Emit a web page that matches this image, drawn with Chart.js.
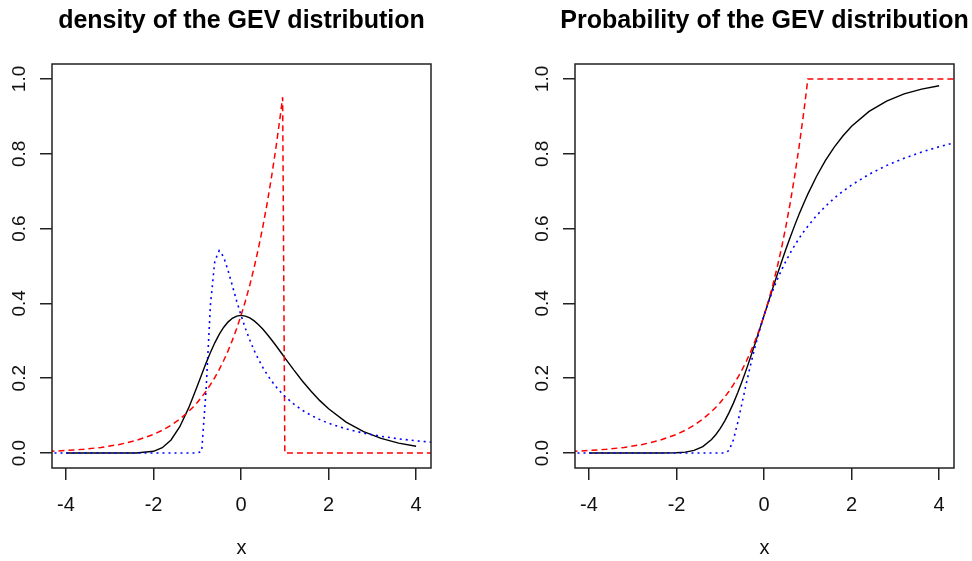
<!DOCTYPE html>
<html>
<head>
<meta charset="utf-8">
<script src="https://cdn.jsdelivr.net/npm/chart.js@4.4.0/dist/chart.umd.min.js"></script>
<style>
  html, body { margin: 0; background: #fff; }
  #wrap { position: relative; width: 972px; height: 561px; }
  canvas { position: absolute; top: 0; }
</style>
</head>
<body>
<div id="wrap">
  <canvas id="densChart" width="486" height="561" style="left:0"></canvas>
  <canvas id="probChart" width="486" height="561" style="left:486px"></canvas>
</div>
<script>
// x grid shared by every curve
const xs = [-4.4, -4, -3.6, -3.2, -2.8, -2.4, -2, -1.8, -1.6, -1.4, -1.2, -1.1, -1, -0.9, -0.8, -0.7, -0.6, -0.5, -0.4, -0.3, -0.2, -0.1,
            0, 0.1, 0.2, 0.3, 0.4, 0.5, 0.6, 0.7, 0.8, 0.9, 0.95, 1, 1.2, 1.4, 1.6, 1.8, 2, 2.4, 2.8, 3.2, 3.6, 4, 4.4];

// density panel
const densBlack = [null, 0, 0, 0, 0, 0.0002, 0.0046, 0.0143, 0.035, 0.0703, 0.12, 0.149, 0.179, 0.21, 0.2404, 0.2688, 0.2946, 0.317, 0.3356, 0.35, 0.3601, 0.366,
                   0.3679, 0.3661, 0.3611, 0.3532, 0.3429, 0.3307, 0.317, 0.3022, 0.2867, 0.2707, 0.2627, 0.2546, 0.2229, 0.1927, 0.165, 0.1401, 0.1182, 0.0828, 0.0572, 0.0391, 0.0266, 0.018, null];
const densRed = [0.0045, 0.0067, 0.0101, 0.015, 0.0224, 0.0334, 0.0498, 0.0608, 0.0743, 0.0907, 0.1108, 0.1225, 0.1353, 0.1496, 0.1653, 0.1827, 0.2019, 0.2231, 0.2466, 0.2725, 0.3012, 0.3329,
                 0.3679, 0.4066, 0.4493, 0.4966, 0.5488, 0.6065, 0.6703, 0.7408, 0.8187, 0.9048, 0.9512, 0, 0, 0, 0, 0, 0, 0, 0, 0, 0, 0, 0];
const densBlue = [0, 0, 0, 0, 0, 0, 0, 0, 0, 0, 0, 0, 0, 0.0045, 0.168, 0.396, 0.513, 0.541, 0.525, 0.489, 0.448, 0.406,
                  0.368, 0.333, 0.302, 0.274, 0.2497, 0.2282, 0.2091, 0.1921, 0.1771, 0.1637, 0.1575, 0.1516, 0.1312, 0.1144, 0.1007, 0.0893, 0.0796, 0.0645, 0.0532, 0.0447, 0.038, 0.0327, 0.0285];

// probability panel
const probBlack = [null, 0, 0, 0, 0, 0, 0.0006, 0.0024, 0.0071, 0.0173, 0.0362, 0.0496, 0.066, 0.0854, 0.108, 0.1335, 0.1617, 0.1923, 0.225, 0.2593, 0.2948, 0.3312,
                   0.3679, 0.4046, 0.441, 0.4767, 0.5116, 0.5453, 0.5776, 0.6086, 0.6381, 0.6659, 0.6793, 0.6922, 0.7399, 0.7815, 0.8172, 0.8476, 0.8734, 0.9133, 0.941, 0.96, 0.973, 0.9819, null];
const probRed = [0.0045, 0.0067, 0.0101, 0.015, 0.0224, 0.0334, 0.0498, 0.0608, 0.0743, 0.0907, 0.1108, 0.1225, 0.1353, 0.1496, 0.1653, 0.1827, 0.2019, 0.2231, 0.2466, 0.2725, 0.3012, 0.3329,
                 0.3679, 0.4066, 0.4493, 0.4966, 0.5488, 0.6065, 0.6703, 0.7408, 0.8187, 0.9048, 0.9512, 1, 1, 1, 1, 1, 1, 1, 1, 1, 1, 1, 1];
const probBlue = [0, 0, 0, 0, 0, 0, 0, 0, 0, 0, 0, 0, 0, 0, 0.0067, 0.0357, 0.0821, 0.1353, 0.1889, 0.2397, 0.2865, 0.3292,
                  0.3679, 0.4029, 0.4346, 0.4634, 0.4895, 0.5134, 0.5353, 0.5553, 0.5738, 0.5908, 0.5988, 0.6065, 0.6348, 0.6592, 0.6807, 0.6997, 0.7165, 0.7452, 0.7686, 0.7881, 0.8046, 0.8187, 0.831];

const xTicks = [-4, -2, 0, 2, 4];
const yTicks = [0, 0.2, 0.4, 0.6, 0.8, 1.0];

Chart.defaults.font.family = '"Liberation Sans", Arial, Helvetica, sans-serif';

// R style: box round the plot region and a bold title centred over it
const rBox = {
    id: 'rBox',
    afterDraw(chart, args, opts) {
        const ctx = chart.ctx;
        const a = chart.chartArea;
        ctx.save();
        ctx.strokeStyle = '#222';
        ctx.lineWidth = 1.5;
        ctx.strokeRect(a.left, a.top, a.right - a.left, a.bottom - a.top);
        ctx.fillStyle = '#000';
        ctx.font = 'bold 25px "Liberation Sans", Arial, sans-serif';
        ctx.textAlign = 'center';
        ctx.textBaseline = 'alphabetic';
        ctx.fillText(opts.title, (a.left + a.right) / 2, 28);
        ctx.restore();
    }
};

function toPoints(values) {
    return xs.map((x, i) => ({ x: x, y: values[i] }));
}

function makeChart(id, title, yWidth, padRight, black, red, blue) {
    const axisGrid = { drawOnChartArea: false, drawTicks: true, tickLength: 12, color: '#222', lineWidth: 1.5 };
    return new Chart(document.getElementById(id), {
        type: 'line',
        data: {
            datasets: [
                { data: toPoints(black), borderColor: '#000', borderWidth: 1.4, order: 3 },
                { data: toPoints(red), borderColor: '#ff0000', borderWidth: 1.5, borderDash: [6, 4], order: 2 },
                { data: toPoints(blue), borderColor: '#0000ff', borderWidth: 1.6, borderDash: [2, 4], order: 1 }
            ]
        },
        options: {
            responsive: false,
            animation: false,
            events: [],
            layout: { padding: { top: 64, right: padRight, bottom: 0, left: 0 } },
            elements: { point: { radius: 0 }, line: { tension: 0 } },
            plugins: {
                legend: { display: false },
                tooltip: { enabled: false },
                rBox: { title: title }
            },
            scales: {
                x: {
                    type: 'linear',
                    min: -4.32,
                    max: 4.34,
                    afterBuildTicks: s => { s.ticks = xTicks.map(v => ({ value: v })); },
                    afterFit: s => { s.height = 93; },
                    border: { display: false },
                    grid: axisGrid,
                    ticks: { font: { size: 20 }, color: '#111', padding: 13, maxRotation: 0, autoSkip: false, callback: v => String(v) },
                    title: { display: true, text: 'x', font: { size: 20 }, color: '#111', padding: { top: 0, bottom: 1 } }
                },
                y: {
                    type: 'linear',
                    min: -0.04,
                    max: 1.04,
                    afterBuildTicks: s => { s.ticks = yTicks.map(v => ({ value: v })); },
                    afterFit: s => { s.width = yWidth; },
                    border: { display: false },
                    grid: axisGrid,
                    ticks: { font: { size: 19 }, color: '#111', padding: 7, minRotation: 90, maxRotation: 90, crossAlign: 'center', autoSkip: false, callback: v => v.toFixed(1) }
                }
            }
        },
        plugins: [rBox]
    });
}

makeChart('densChart', 'density of the GEV distribution', 52, 55, densBlack, densRed, densBlue);
makeChart('probChart', 'Probability of the GEV distribution', 89, 18, probBlack, probRed, probBlue);
</script>
</body>
</html>
